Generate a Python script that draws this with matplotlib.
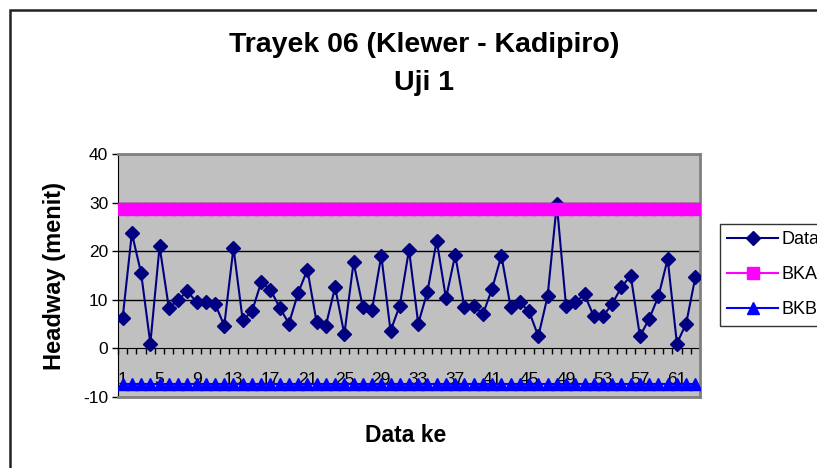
import matplotlib
matplotlib.use("Agg")
import matplotlib.pyplot as plt
from matplotlib.patches import Rectangle
import numpy as np

plt.rcParams['font.family'] = ['Liberation Sans', 'DejaVu Sans']
plt.rcParams['axes.unicode_minus'] = False

headway = [6.2, 23.7, 15.5, 1.0, 21.0, 8.4, 9.9, 11.8, 9.5, 9.5,
           9.2, 4.7, 20.7, 5.8, 7.6, 13.6, 12.1, 8.4, 5.1, 11.4,
           16.2, 5.4, 4.7, 12.6, 2.9, 17.7, 8.5, 8.0, 19.1, 3.6,
           8.8, 20.3, 5.1, 11.7, 22.2, 10.3, 19.2, 8.5, 8.8, 7.0,
           12.3, 19.1, 8.5, 9.5, 7.6, 2.5, 10.7, 29.7, 8.7, 9.5,
           11.1, 6.6, 6.6, 9.2, 12.6, 15.0, 2.5, 6.1, 10.7, 18.4,
           1.0, 5.1, 14.7]
bka_value = 28.6
bkb_value = -7.3
series_names = ["Data", "BKA", "BKB"]

n = len(headway)
x = np.arange(1, n + 1)
bka = [bka_value] * n
bkb = [bkb_value] * n

fig = plt.figure(figsize=(8.17, 4.68), dpi=100)
ax = fig.add_axes([118 / 817, 1 - 397 / 468, 582 / 817, 243 / 468])
ax.set_facecolor('#c0c0c0')

# outer chart border (cut off at the right and bottom)
fig.patches.append(Rectangle((10 / 817, -0.1), 1.2, 1.1 - 10 / 468,
                             transform=fig.transFigure, fill=False,
                             edgecolor='#222222', linewidth=1.8))

ax.plot(x, headway, color='#000080', lw=1.5, marker='D', ms=7,
        label=series_names[0], zorder=3)
ax.plot(x, bka, color='#ff00ff', lw=1.5, marker='s', ms=8,
        label=series_names[1], zorder=4)
ax.plot(x, bkb, color='#0000ff', lw=1.5, marker='^', ms=8.5,
        label=series_names[2], zorder=4)

ax.set_xlim(0.5, n + 0.5)
ax.set_ylim(-10, 40)
ax.set_yticks([-10, 0, 10, 20, 30, 40])
for v in [10, 20, 30]:
    ax.axhline(v, color='black', lw=1, zorder=1)

ax.tick_params(axis='y', length=4, width=1, labelsize=12.5, pad=3, colors='black')
ax.tick_params(axis='x', bottom=False, labelbottom=False)
for s in ['top', 'right', 'bottom']:
    ax.spines[s].set_color('#808080')
    ax.spines[s].set_linewidth(2)
ax.spines['left'].set_color('black')

# category axis crossing at y = 0
sec = ax.secondary_xaxis(0.2)
sec.set_xticks(x[::4])
sec.set_xticklabels([str(i) for i in x[::4]])
sec.set_xticks(np.arange(0.5, n + 1), minor=True)
sec.tick_params(axis='x', which='major', length=0, labelsize=12.5, pad=17)
sec.tick_params(axis='x', which='minor', length=4, width=1)
sec.spines['bottom'].set_color('black')

ax.set_ylabel("Headway (menit)", fontsize=17, fontweight='bold', labelpad=12)
fig.text(406 / 817, 1 - 435 / 468, "Data ke", fontsize=16.5, fontweight='bold',
         ha='center', va='center')
fig.text(424 / 817, 1 - 45 / 468, "Trayek 06 (Klewer - Kadipiro)", fontsize=20.5,
         fontweight='bold', ha='center', va='center')
fig.text(424 / 817, 1 - 83 / 468, "Uji 1", fontsize=20.5,
         fontweight='bold', ha='center', va='center')

leg = fig.legend(loc='upper left', bbox_to_anchor=(720 / 817, 1 - 224 / 468),
                 fontsize=13, frameon=True, fancybox=False, edgecolor='black',
                 borderaxespad=0, borderpad=0.4, labelspacing=1.0,
                 handlelength=2.8, handletextpad=0.2)
leg.get_frame().set_linewidth(1)

fig.savefig("out.png", dpi=100)
